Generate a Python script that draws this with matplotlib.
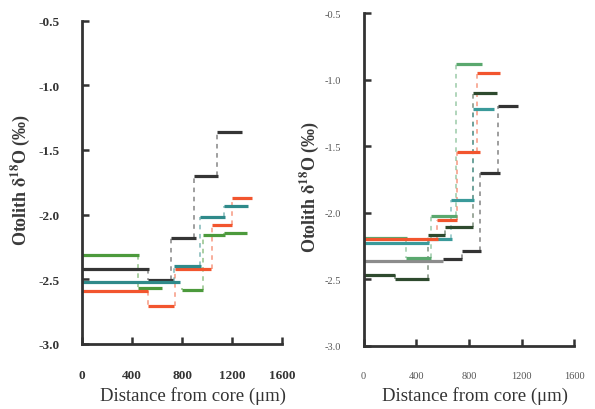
import matplotlib
matplotlib.use('Agg')
import matplotlib.pyplot as plt
from matplotlib.ticker import FormatStrFormatter

plt.rcParams['font.family'] = ['Liberation Serif', 'DejaVu Serif']
plt.rcParams['mathtext.fontset'] = 'stix'
plt.rcParams['axes.unicode_minus'] = False

# Step profiles: each segment is (start, end, value) along the otolith transect
# ---- panel A ----
a_black_start = [0, 528, 709, 899, 1083]
a_black_end = [539, 725, 909, 1091, 1283]
a_black_val = [-2.42, -2.51, -2.18, -1.70, -1.36]

a_green_start = [0, 445, 797, 965, 1139]
a_green_end = [458, 637, 971, 1144, 1317]
a_green_val = [-2.31, -2.57, -2.58, -2.16, -2.14]

a_red_start = [0, 531, 740, 1037, 1197]
a_red_end = [531, 736, 1032, 1203, 1363]
a_red_val = [-2.59, -2.71, -2.42, -2.08, -1.87]

a_teal_start = [0, 735, 944, 1136]
a_teal_end = [784, 952, 1147, 1331]
a_teal_val = [-2.52, -2.40, -2.02, -1.93]

# ---- panel B ----
b_gray_start = [0]
b_gray_end = [607]
b_gray_val = [-2.36]

b_black_start = [607, 747, 886, 1025]
b_black_end = [747, 891, 1037, 1177]
b_black_val = [-2.35, -2.29, -1.70, -1.20]

b_dkgreen_start = [0, 241, 486, 620, 828]
b_dkgreen_end = [241, 494, 620, 835, 1012]
b_dkgreen_val = [-2.47, -2.50, -2.17, -2.11, -1.10]

b_red_start = [0, 557, 709, 861]
b_red_end = [565, 709, 881, 1037]
b_red_val = [-2.20, -2.05, -1.54, -0.95]

b_teal_start = [0, 499, 668, 835]
b_teal_end = [499, 671, 840, 992]
b_teal_val = [-2.23, -2.20, -1.90, -1.22]

b_green_start = [0, 324, 511, 704]
b_green_end = [329, 514, 709, 899]
b_green_val = [-2.19, -2.34, -2.02, -0.88]

xticks = [0, 400, 800, 1200, 1600]
yticks = [-3.0, -2.5, -2.0, -1.5, -1.0, -0.5]


def draw_steps(ax, starts, ends, vals, color, lw=2.3):
    # dashed risers between consecutive steps
    for i in range(1, len(vals)):
        ax.plot([starts[i], starts[i]], [vals[i - 1], vals[i]], color=color,
                lw=1.1, ls=(0, (3, 3)), alpha=0.6, zorder=1)
    for s, e, v in zip(starts, ends, vals):
        ax.plot([s, e], [v, v], color=color, lw=lw, solid_capstyle='butt', zorder=2)


def style_axes(ax, tick_size, tick_weight, tick_color):
    ax.set_xlim(0, 1600)
    ax.set_ylim(-3.0, -0.5)
    ax.set_xticks(xticks)
    ax.set_yticks(yticks)
    ax.yaxis.set_major_formatter(FormatStrFormatter('%.1f'))
    for side in ['top', 'right']:
        ax.spines[side].set_visible(False)
    for side in ['left', 'bottom']:
        ax.spines[side].set_linewidth(2.0)
        ax.spines[side].set_color('#333333')
    ax.tick_params(direction='in', length=5, width=1.8, color='#333333',
                   labelsize=tick_size, labelcolor=tick_color)
    ax.tick_params(axis='y', pad=16)
    ax.tick_params(axis='x', pad=18)
    for lab in ax.get_xticklabels() + ax.get_yticklabels():
        lab.set_fontweight(tick_weight)


fig = plt.figure(figsize=(5.95, 4.10), dpi=100)
ylab = r'Otolith $\mathbf{\delta^{18}}$O (‰)'
xlab = 'Distance from core (μm)'

# left panel
ax1 = fig.add_axes([0.138, 0.159, 0.336, 0.788])
draw_steps(ax1, a_green_start, a_green_end, a_green_val, '#4c9a3c')
draw_steps(ax1, a_black_start, a_black_end, a_black_val, '#353535')
draw_steps(ax1, a_red_start, a_red_end, a_red_val, '#f2552e')
draw_steps(ax1, a_teal_start, a_teal_end, a_teal_val, '#2f8a8a')
style_axes(ax1, 9.5, 'bold', '#333333')
ax1.set_ylabel(ylab, fontsize=13, fontweight='bold', color='#3a3a3a')
ax1.yaxis.set_label_coords(-0.25, 0.51)
ax1.set_xlabel(xlab, fontsize=13.5, color='#333333')
ax1.xaxis.set_label_coords(0.555, -0.13)

# right panel
ax2 = fig.add_axes([0.611, 0.154, 0.354, 0.811])
draw_steps(ax2, b_gray_start, b_gray_end, b_gray_val, '#8c8c8c')
draw_steps(ax2, b_dkgreen_start, b_dkgreen_end, b_dkgreen_val, '#2e4a2e')
draw_steps(ax2, b_black_start, b_black_end, b_black_val, '#333333')
draw_steps(ax2, b_green_start, b_green_end, b_green_val, '#5aa86e')
draw_steps(ax2, b_teal_start, b_teal_end, b_teal_val, '#3a9a9a')
draw_steps(ax2, b_red_start, b_red_end, b_red_val, '#f2552e')
style_axes(ax2, 7.5, 'normal', '#555555')
ax2.set_ylabel(ylab, fontsize=13, fontweight='bold', color='#3a3a3a')
ax2.yaxis.set_label_coords(-0.2, 0.48)
ax2.set_xlabel(xlab, fontsize=13.5, color='#333333')
ax2.xaxis.set_label_coords(0.53, -0.12)

plt.savefig('out.png', dpi=100)
